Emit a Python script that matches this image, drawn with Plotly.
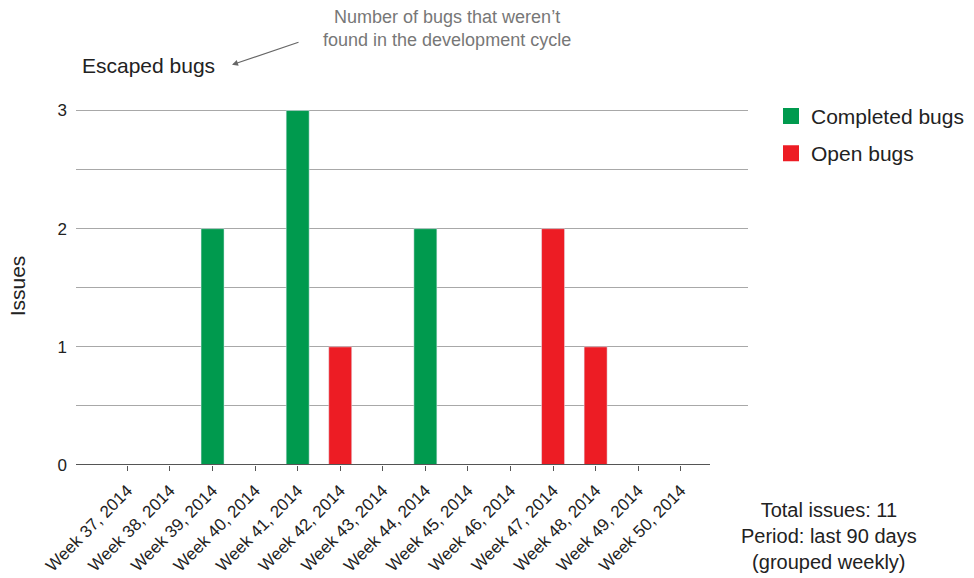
import plotly.graph_objects as go

# Weekly escaped-bug counts over the last 90 days
weeks = ["Week 37, 2014", "Week 38, 2014", "Week 39, 2014", "Week 40, 2014",
         "Week 41, 2014", "Week 42, 2014", "Week 43, 2014", "Week 44, 2014",
         "Week 45, 2014", "Week 46, 2014", "Week 47, 2014", "Week 48, 2014",
         "Week 49, 2014", "Week 50, 2014"]
completed = [0, 0, 2, 0, 3, 0, 0, 2, 0, 0, 0, 0, 0, 0]
open_bugs = [0, 0, 0, 0, 0, 1, 0, 0, 0, 0, 2, 1, 0, 0]
total_issues = sum(completed) + sum(open_bugs)

GREEN = "#009a4e"
RED = "#ed1c24"
TEXT = "#222222"
GRID = "#a8a8a8"
FONT = "Liberation Sans, Arial, sans-serif"

# plot-area geometry (px); the y range runs a touch past 3 so its gridline shows
Y_TOP = 3.03
L, R, B = 76, 226, 113
W, H = 974, 578
ph = round((465 - 110.7) * Y_TOP / 3, 1)
T = H - B - ph
pw = W - L - R


def px_x(x):
    return (x - L) / pw


def px_y(y):
    return (H - B - y) / ph


fig = go.Figure()
fig.add_trace(go.Bar(x=weeks, y=completed, marker_color=GREEN, width=0.54,
                     showlegend=False, legendgroup="c", hoverinfo="x+y",
                     name="Completed bugs"))
fig.add_trace(go.Bar(x=weeks, y=open_bugs, marker_color=RED, width=0.54,
                     showlegend=False, legendgroup="o", hoverinfo="x+y",
                     name="Open bugs"))
# square legend keys
fig.add_trace(go.Scatter(x=[None], y=[None], mode="markers", name="Completed bugs",
                         legendgroup="c",
                         marker=dict(symbol="square", size=16, color=GREEN)))
fig.add_trace(go.Scatter(x=[None], y=[None], mode="markers", name="Open bugs",
                         legendgroup="o",
                         marker=dict(symbol="square", size=16, color=RED)))

fig.update_layout(
    width=W, height=H,
    margin=dict(l=L, r=R, t=T, b=B, autoexpand=False),
    paper_bgcolor="white", plot_bgcolor="white",
    font=dict(family=FONT, color=TEXT, size=15),
    barmode="overlay",
    title=dict(text="Escaped bugs", xref="container", yref="container",
               x=82 / W, xanchor="left", y=1 - 66 / H, yanchor="middle",
               font=dict(size=21, color=TEXT)),
    legend=dict(x=px_x(771), xanchor="left", y=px_y(96), yanchor="top",
                font=dict(size=21, color=TEXT), tracegroupgap=7,
                bgcolor="rgba(0,0,0,0)"),
    xaxis=dict(type="category", range=[-1.208, 14.58], tickangle=-45,
               showgrid=False, zeroline=False, showline=False,
               ticks="outside", ticklen=5, tickcolor="#555555", tickwidth=1,
               ticklabelstandoff=3,
               tickfont=dict(size=17, color=TEXT), fixedrange=True),
    yaxis=dict(range=[0, Y_TOP], tickvals=[0, 1, 2, 3], showgrid=True,
               gridcolor=GRID, gridwidth=1.3,
               minor=dict(dtick=0.5, showgrid=True, gridcolor=GRID, gridwidth=1.3),
               zeroline=True, zerolinecolor="rgba(0,0,0,0)",
               showline=False, ticks="", ticklabelstandoff=8,
               tickfont=dict(size=17, color=TEXT),
               title=dict(text="Issues", font=dict(size=21, color=TEXT), standoff=26),
               automargin=False, fixedrange=True),
    shapes=[dict(type="line", xref="paper", yref="y", x0=0, x1=px_x(710), y0=0, y1=0,
                 line=dict(color="#555555", width=2), layer="above")],
    annotations=[
        dict(text="Number of bugs that weren’t<br>found in the development cycle",
             xref="paper", yref="paper", x=px_x(447), y=px_y(28.5),
             xanchor="center", yanchor="middle", showarrow=False,
             font=dict(size=18, color="#777777")),
        dict(text="", xref="paper", yref="paper", x=px_x(232), y=px_y(65),
             ax=68, ay=-23, showarrow=True, arrowhead=2, arrowsize=1,
             arrowwidth=1.2, arrowcolor="#666666", standoff=0),
        dict(text=f"Total issues: {total_issues}<br>Period: last 90 days<br>(grouped weekly)",
             xref="paper", yref="paper", x=px_x(828.5), y=px_y(536),
             xanchor="center", yanchor="middle", showarrow=False, align="center",
             font=dict(size=20, color=TEXT)),
    ],
)

fig.write_html("out.html")
